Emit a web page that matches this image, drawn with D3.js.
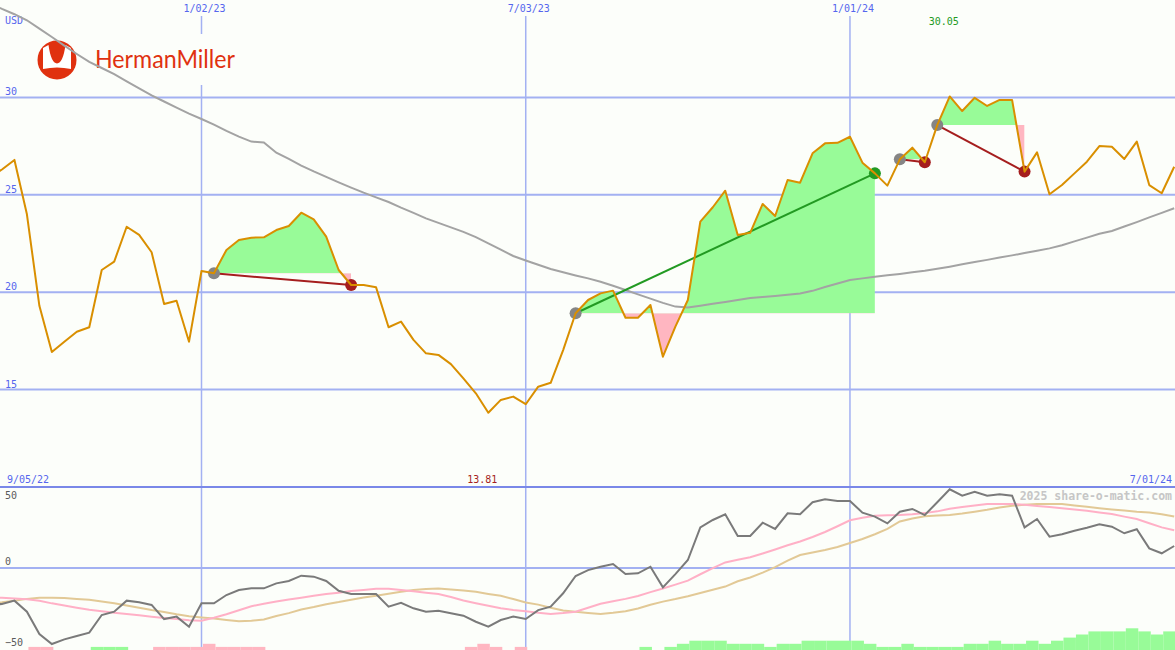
<!DOCTYPE html>
<html><head><meta charset="utf-8">
<script src="https://cdn.jsdelivr.net/npm/d3@7"></script>
<style>html,body{margin:0;padding:0;background:#fcfefa;} svg{display:block;}</style>
</head><body><svg id="c" width="1175" height="650"></svg>
<script>
// ---------------- data ----------------
const startDate = "2022-09-05", endDate = "2024-07-01";
const price = [25.9,26.3,26.79,24.0,19.3,16.93,17.46,17.97,18.2,21.14,
 21.57,23.36,22.94,22.05,19.39,19.56,17.46,21.09,20.97,22.17,
 22.68,22.8,22.82,23.19,23.4,24.08,23.74,22.85,21.14,20.37,
 20.37,20.25,18.2,18.49,17.55,16.86,16.78,16.31,15.58,14.81,
 13.81,14.47,14.64,14.25,15.15,15.35,17.03,18.92,19.6,19.94,
 20.08,18.69,18.69,19.34,16.69,18.23,19.6,23.62,24.36,25.21,
 22.94,23.05,24.53,23.91,25.76,25.62,27.13,27.64,27.67,27.98,
 26.65,26.1,25.47,26.82,27.42,26.67,28.58,30.05,29.3,29.98,
 29.56,29.87,29.87,26.19,27.18,25.03,25.5,26.1,26.7,27.5,
 27.47,26.84,27.73,25.5,25.08,26.44];
const movingAvg = [34.85,34.54,34.27,33.96,33.53,33.10,32.66,32.23,31.82,31.51,
 31.19,30.82,30.46,30.10,29.79,29.48,29.17,28.89,28.60,28.28,
 27.99,27.73,27.69,27.16,26.84,26.50,26.20,25.92,25.64,25.37,
 25.11,24.87,24.63,24.34,24.07,23.79,23.56,23.33,23.10,22.83,
 22.51,22.18,21.86,21.63,21.41,21.19,21.02,20.86,20.71,20.54,
 20.33,20.11,19.89,19.67,19.45,19.26,19.22,19.31,19.41,19.50,
 19.60,19.70,19.75,19.81,19.87,19.93,20.07,20.27,20.45,20.63,
 20.71,20.79,20.87,20.94,21.02,21.10,21.20,21.31,21.43,21.55,
 21.66,21.78,21.89,22.01,22.13,22.25,22.41,22.61,22.80,23.00,
 23.14,23.37,23.60,23.84,24.07,24.31];
const osc = [-23,-22.5,-20.4,-27.3,-41.3,-47.5,-44.6,-42.5,-40.4,-29.4,
 -27.3,-20.4,-21.4,-23.1,-31.9,-30.4,-36.7,-22.1,-22.1,-16.9,
 -13.8,-12.7,-12.7,-9.6,-8.1,-4.8,-5.4,-8.1,-14.2,-16.3,
 -16.3,-16.3,-24.2,-21.7,-25.2,-27.3,-26.7,-28.3,-29.8,-33.6,
 -36.7,-32.5,-30.4,-31.9,-26.3,-24.2,-15.8,-5.0,-1.3,0.8,
 2.5,-3.8,-3.3,0.8,-12.1,-3.8,5.0,25.4,30.0,33.6,
 20.0,20.0,28.3,24.4,34.2,33.6,41.1,42.9,41.9,41.9,
 34.6,32.1,27.9,35.2,36.9,33.1,41.1,49.2,45.2,47.7,
 45.2,46.1,45.2,25.4,30.6,19.6,21.1,23.3,25.2,27.3,
 25.8,21.7,24.2,12.3,9.2,13.75];
const oscPink = [-18.1,-18.6,-19.1,-19.6,-20.5,-22.1,-23.4,-24.8,-26.1,-27.1,
 -28.0,-28.8,-29.6,-30.4,-31.2,-31.9,-32.6,-32.9,-31.1,-28.9,
 -26.4,-23.9,-22.4,-21.0,-19.7,-18.6,-17.4,-16.3,-15.4,-14.4,
 -13.7,-12.9,-12.9,-13.7,-14.5,-15.4,-16.3,-18.1,-20.3,-22.0,
 -23.6,-25.1,-26.2,-27.1,-28.0,-28.7,-28.1,-27.3,-24.8,-22.4,
 -20.8,-19.3,-17.5,-15.1,-12.8,-10.4,-7.9,-3.9,-0.1,3.5,
 5.1,6.7,9.1,11.6,14.2,16.6,19.4,22.5,26.1,29.8,
 31.4,32.6,32.9,33.1,33.6,34.3,35.4,37.0,38.1,39.1,
 40.0,40.0,40.0,39.6,38.8,38.1,37.3,36.5,35.8,34.7,
 33.7,32.1,30.6,28.0,25.4,23.6];
const oscTan = [-22.2,-21.4,-20.4,-19.3,-18.6,-18.6,-18.8,-19.3,-19.9,-21.0,
 -22.1,-23.4,-24.8,-26.3,-27.5,-28.9,-30.1,-30.9,-31.6,-32.5,
 -33.3,-32.9,-32.2,-30.0,-28.2,-25.9,-24.4,-22.6,-21.3,-19.8,
 -18.4,-17.3,-16.1,-14.9,-13.8,-13.1,-12.8,-13.4,-14.0,-14.9,
 -16.2,-17.4,-19.4,-21.5,-22.9,-24.9,-26.6,-27.4,-28.1,-28.8,
 -28.0,-27.0,-25.3,-23.0,-21.0,-19.4,-17.6,-15.6,-13.6,-11.6,
 -8.3,-5.9,-2.9,0.5,4.6,8.1,9.7,11.3,13.1,15.6,
 18.1,21.1,24.4,29.1,30.9,32.3,32.8,33.1,34.0,35.2,
 36.4,37.8,38.9,39.5,40.0,40.0,40.0,39.1,38.3,37.4,
 36.6,35.9,35.2,34.7,33.6,32.2];
const strength = [0,0,0,0,-1,-1,0,0,0,1,
 1,1,0,0,-1,-1,-1,-1,-2,-1,
 -1,-1,-1,0,0,0,0,0,0,0,
 0,0,0,0,0,0,0,0,0,-1,
 -2,-1,0,-1,0,0,0,0,0,0,
 0,0,0,1,0,1,2,3,3,3,
 2,2,2,1,2,2,3,3,3,3,
 3,2,1,1,2,1,1,1,1,2,
 2,3,2,2,3,2,3,4,5,6,
 6,6,7,6,5,6];
const tradeEntry = ["2023-01-09","2023-07-31","2024-01-29","2024-02-19"];
const tradeExit  = ["2023-03-27","2024-01-15","2024-02-12","2024-04-08"];
const dateTicks = ["2023-01-02","2023-07-03","2024-01-01"];
const priceTicks = [15,20,25,30];
const oscTicks = [50,0,-50];

// ---------------- setup ----------------
const W = 1175, H = 650;
const parse = d3.utcParse("%Y-%m-%d");
const fmt = d3.utcFormat("%-m/%d/%y");
const dates = d3.utcMonday.range(parse(startDate), d3.utcDay.offset(parse(endDate), 1));
const idx = s => dates.findIndex(d => +d === +parse(s));

const x = d3.scaleUtc().domain([parse(startDate), parse(endDate)]).range([-10.5, 1174.2]);
const y = d3.scaleLinear().domain([10, 35]).range([487, 0]);
const yo = d3.scaleLinear().domain([-50, 50]).range([648, 488]);
const hb = d3.scaleLinear().domain([0, 7]).range([0, 21.7]);

const C = {
  bg: "#fcfefa", grid: "#a3b1f2", divider: "#7a88e8", label: "#5566ee",
  price: "#d98f00", ma: "#a3a3a3", green: "#98fb98", pink: "#ffb6c1",
  osc: "#7a7a7a", oscPink: "#ffb0c6", oscTan: "#e2c996",
  loss: "#a51e1e", win: "#229a22", entry: "#858585", logo: "#e0310f"
};
const mono = "'DejaVu Sans Mono', 'Liberation Mono', monospace";

const svg = d3.select("#c");
svg.append("rect").attr("width", W).attr("height", H).attr("fill", C.bg);
const defs = svg.append("defs");
defs.append("clipPath").attr("id", "mainClip").append("rect").attr("x", 0).attr("y", 0).attr("width", W).attr("height", 487);
defs.append("clipPath").attr("id", "lowClip").append("rect").attr("x", 0).attr("y", 488).attr("width", W).attr("height", H - 488);

// ---------------- grid ----------------
const grid = svg.append("g");
grid.selectAll(".hg").data(priceTicks).join("line")
  .attr("x1", 0).attr("x2", W).attr("y1", d => y(d)).attr("y2", d => y(d))
  .attr("stroke", C.grid).attr("stroke-width", 2);
grid.selectAll(".vg").data(dateTicks).join("line")
  .attr("x1", d => x(parse(d))).attr("x2", d => x(parse(d)))
  .attr("y1", 16).attr("y2", H)
  .attr("stroke", C.grid).attr("stroke-width", 1.5);
grid.append("line").attr("x1", 0).attr("x2", W).attr("y1", yo(0)).attr("y2", yo(0))
  .attr("stroke", C.grid).attr("stroke-width", 2);
grid.append("line").attr("x1", 0).attr("x2", W).attr("y1", 487).attr("y2", 487)
  .attr("stroke", C.divider).attr("stroke-width", 2);

// labels
const lab = svg.append("g").attr("font-family", mono).attr("font-size", 10);
lab.append("text").attr("x", 5).attr("y", 24).attr("fill", C.label).text("USD");
lab.selectAll(".pt").data(priceTicks).join("text")
  .attr("x", 5).attr("y", d => y(d) - 2).attr("fill", C.label).text(d => d);
lab.selectAll(".dt").data(dateTicks).join("text")
  .attr("x", d => x(parse(d)) + 3).attr("y", 12).attr("text-anchor", "middle")
  .attr("fill", C.label).text(d => fmt(parse(d)));
lab.append("text").attr("x", 7).attr("y", 483).attr("fill", C.label).text(fmt(parse(startDate)));
lab.append("text").attr("x", 1172).attr("y", 483).attr("text-anchor", "end").attr("fill", C.label).text(fmt(parse(endDate)));
lab.selectAll(".ot").data(oscTicks).join("text")
  .attr("x", 5).attr("y", d => d === 50 ? 499 : (d === 0 ? yo(0) - 3 : 646))
  .attr("fill", "#5a5a5a").text(d => d === -50 ? "\u221250" : d);

// ---------------- logo ----------------
const logo = svg.append("g");
logo.append("rect").attr("x", 30).attr("y", 34).attr("width", 212).attr("height", 51).attr("fill", C.bg);
const lg = logo.append("g").attr("transform", "translate(57,60)");
lg.append("circle").attr("r", 19.5).attr("fill", C.logo);
lg.append("path")
  .attr("d", "M-14,-12 L-8.5,-15 Q-6,3 0,3.5 Q6,3 8.5,-15 L14,-12 L14,9 Q0,6 -14,9 Z")
  .attr("fill", "#ffffff");
logo.append("text").attr("x", 95).attr("y", 68).attr("fill", C.logo)
  .attr("font-family", "Lato, 'Open Sans', sans-serif").attr("font-size", 25)
  .attr("textLength", 140).attr("lengthAdjust", "spacingAndGlyphs").text("HermanMiller");

// ---------------- main panel ----------------
const main = svg.append("g").attr("clip-path", "url(#mainClip)");

tradeEntry.forEach((s, k) => {
  const i0 = idx(s), i1 = idx(tradeExit[k]);
  const seg = d3.range(i0, i1 + 1);
  const lvl = price[i0];
  const area = d3.area().x(i => x(dates[i])).y0(y(lvl)).y1(i => y(price[i]));
  const x0 = x(dates[i0]), x1 = x(dates[i1]);
  defs.append("clipPath").attr("id", "up" + k).append("rect")
    .attr("x", x0).attr("width", x1 - x0).attr("y", 0).attr("height", y(lvl));
  defs.append("clipPath").attr("id", "dn" + k).append("rect")
    .attr("x", x0).attr("width", x1 - x0).attr("y", y(lvl)).attr("height", H);
  main.append("path").datum(seg).attr("d", area).attr("fill", C.green).attr("clip-path", `url(#up${k})`);
  main.append("path").datum(seg).attr("d", area).attr("fill", C.pink).attr("clip-path", `url(#dn${k})`);
});

main.append("path").datum(d3.range(dates.length))
  .attr("d", d3.line().x(i => x(dates[i])).y(i => y(movingAvg[i])))
  .attr("fill", "none").attr("stroke", C.ma).attr("stroke-width", 2);

tradeEntry.forEach((s, k) => {
  const i0 = idx(s), i1 = idx(tradeExit[k]);
  const win = price[i1] > price[i0];
  main.append("line")
    .attr("x1", x(dates[i0])).attr("y1", y(price[i0]))
    .attr("x2", x(dates[i1])).attr("y2", y(price[i1]))
    .attr("stroke", win ? C.win : C.loss).attr("stroke-width", 2);
  main.append("circle").attr("cx", x(dates[i0])).attr("cy", y(price[i0])).attr("r", 6).attr("fill", C.entry);
  main.append("circle").attr("cx", x(dates[i1])).attr("cy", y(price[i1])).attr("r", 6).attr("fill", win ? C.win : C.loss);
});

main.append("path").datum(d3.range(dates.length))
  .attr("d", d3.line().x(i => x(dates[i])).y(i => y(price[i])))
  .attr("fill", "none").attr("stroke", C.price).attr("stroke-width", 2).attr("stroke-linejoin", "round");

// min / max labels
const iMax = d3.maxIndex(price), iMin = d3.minIndex(price);
lab.append("text").attr("x", x(dates[iMax]) - 6).attr("y", 25).attr("text-anchor", "middle")
  .attr("fill", C.win).text(price[iMax].toFixed(2));
lab.append("text").attr("x", x(dates[iMin]) - 6).attr("y", 483).attr("text-anchor", "middle")
  .attr("fill", C.loss).text(price[iMin].toFixed(2));

// ---------------- lower panel ----------------
const low = svg.append("g").attr("clip-path", "url(#lowClip)");
const step = x(dates[1]) - x(dates[0]);
low.selectAll(".bar").data(d3.range(dates.length).filter(i => strength[i] !== 0)).join("rect")
  .attr("x", i => x(dates[i]) - step + 1.5).attr("width", step)
  .attr("y", i => H - hb(Math.abs(strength[i]))).attr("height", i => hb(Math.abs(strength[i])))
  .attr("fill", i => strength[i] > 0 ? C.green : C.pink);

svg.append("text").attr("x", 1172).attr("y", 500).attr("text-anchor", "end")
  .attr("font-family", mono).attr("font-size", 11.5).attr("font-weight", "bold")
  .attr("fill", "#c6c6c6").text("2025 share-o-matic.com");

[[oscTan, C.oscTan], [oscPink, C.oscPink], [osc, C.osc]].forEach(([arr, col]) => {
  low.append("path").datum(d3.range(dates.length))
    .attr("d", d3.line().x(i => x(dates[i])).y(i => yo(arr[i])))
    .attr("fill", "none").attr("stroke", col).attr("stroke-width", 2);
});
</script></body></html>
